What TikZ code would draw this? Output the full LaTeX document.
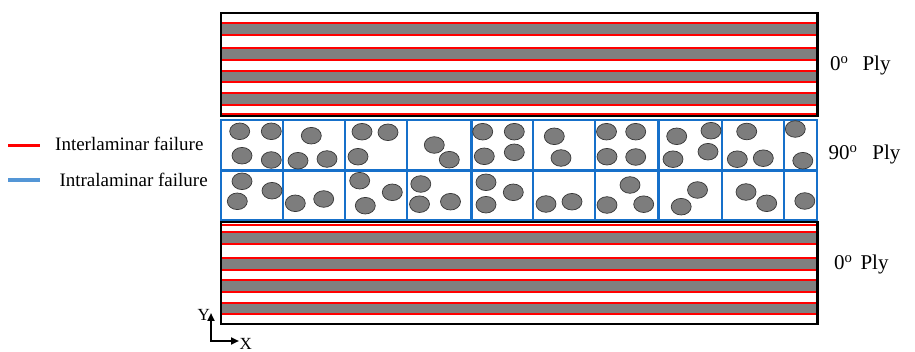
\documentclass[tikz,border=0pt]{standalone}
\usepackage{fontspec}
\setmainfont{Liberation Serif}
\usepackage{xcolor}
\usetikzlibrary{arrows.meta}

\definecolor{plygray}{RGB}{128,128,128}
\definecolor{fibregray}{RGB}{125,125,125}
\definecolor{fibreedge}{RGB}{55,55,55}
\definecolor{cellblue}{RGB}{22,112,202}
\definecolor{legendblue}{RGB}{84,150,214}
\definecolor{failred}{RGB}{255,0,0}

\begin{document}
\begin{tikzpicture}[
    x=1pt, y=-1pt,
    band/.style={fill=plygray},
    redline/.style={draw=failred, line width=1.8pt},
    plybox/.style={draw=black, line width=2.4pt},
    cellgrid/.style={draw=cellblue, line width=2.3pt},
    fibre/.style={fill=fibregray, draw=fibreedge, line width=0.7pt},
    legendline/.style={line width=3.2pt},
    plylabel/.style={anchor=base west, inner sep=0pt, font=\fontsize{21}{24}\selectfont},
    legendtext/.style={anchor=base west, inner sep=0pt, font=\fontsize{19}{22}\selectfont},
    axislabel/.style={anchor=base west, inner sep=0pt, font=\fontsize{17}{20}\selectfont},
    axis/.style={-{Triangle[length=8pt,width=7pt]}, line width=2pt}
  ]
    \useasboundingbox (0,0) rectangle (915,352);
    \fill[white] (0,0) rectangle (915,352);

    \foreach \t/\b in {24.3/34.3, 49/59, 71.7/81.3, 94.3/103.7} {
      \fill[band] (221,\t) rectangle (817.5,\b);
      \draw[redline] (221,\t-1) -- (817.5,\t-1);
      \draw[redline] (221,\b+1) -- (817.5,\b+1);
    }
    \draw[redline] (221,113.8) -- (817.5,113.8);
    \draw[plybox] (221,13) rectangle (817.5,116.2);

    \draw[redline] (221,224.8) -- (817.5,224.8);
    \foreach \t/\b in {233.3/243.3, 259.3/269.3, 281/290.7, 303.7/313.3} {
      \fill[band] (221,\t) rectangle (817.5,\b);
      \draw[redline] (221,\t-1) -- (817.5,\t-1);
      \draw[redline] (221,\b+1) -- (817.5,\b+1);
    }
    \draw[plybox] (221,222.2) rectangle (817.5,324.3);

    \draw[cellgrid] (221,119.7) rectangle (817,219.8);
    \draw[cellgrid] (221,170.5) -- (817,170.5);
    \foreach \x in {283,345,407,471.5,533,595,658.5,722,784}
      \draw[cellgrid] (\x,119.7) -- (\x,219.8);

    \foreach \x/\y in {239.7/131.3, 271.3/131.3, 242/155.7, 271.3/160,
        311.3/135.7, 298/160.7, 327/159,
        362/131.7, 388/132.3, 358/156.7,
        434.3/145, 449.3/159.7,
        482.7/131.7, 514.3/131.7, 484.3/156.3, 514.3/152.3,
        554.3/136.3, 561/158,
        606.5/131.7, 635.7/131.7, 607/156.7, 635.7/157,
        676.7/136.3, 711/130.7, 673/159.2, 708/151.7,
        746.7/131.5, 737.3/159.2, 763.3/158.2,
        795.3/129, 802.8/160.7,
        242/181.3, 272/190.7, 237.3/201.3,
        295.3/203.3, 323.7/199,
        359.7/180.7, 392.3/192.3, 365.3/205.7,
        420.8/184, 419.5/204.2, 450.5/201.7,
        486/182.3, 513.3/192.3, 486/204.7,
        546/204, 572/201.7,
        607/205, 630/185, 643.7/204.2,
        697.5/190, 681.2/206.7,
        746/192, 766.7/203.3,
        804.8/201}
      \draw[fibre] (\x,\y) ellipse [x radius=10pt, y radius=8.3pt];

    \coordinate (redstart) at (8,145.7);
    \coordinate (redend) at (39.5,145.7);
    \coordinate (bluestart) at (8,180);
    \coordinate (blueend) at (39.5,180);
    \draw[legendline, failred] (redstart) -- (redend);
    \draw[legendline, legendblue] (bluestart) -- (blueend);
    \node[legendtext] (inter) at (55,150.7) {Interlaminar failure};
    \node[legendtext] (intra) at (59.3,186.7) {Intralaminar failure};

    \node[plylabel] (topply) at (830,70.7) {0\textsuperscript{o}\hspace{14pt}Ply};
    \node[plylabel] (midply) at (828.3,160) {90\textsuperscript{o}\hspace{15pt}Ply};
    \node[plylabel] (botply) at (834,270) {0\textsuperscript{o}\hspace{8pt}Ply};

    \coordinate (origin) at (211,341);
    \coordinate (ytip) at (211,313);
    \coordinate (xtip) at (239,341);
    \draw[axis] (origin) -- (ytip);
    \draw[axis] ([xshift=-1pt]origin) -- (xtip);
    \node[axislabel] (ylabel) at (197.5,320) {Y};
    \node[axislabel] (xlabel) at (239.5,349.5) {X};
  \end{tikzpicture}
\end{document}
